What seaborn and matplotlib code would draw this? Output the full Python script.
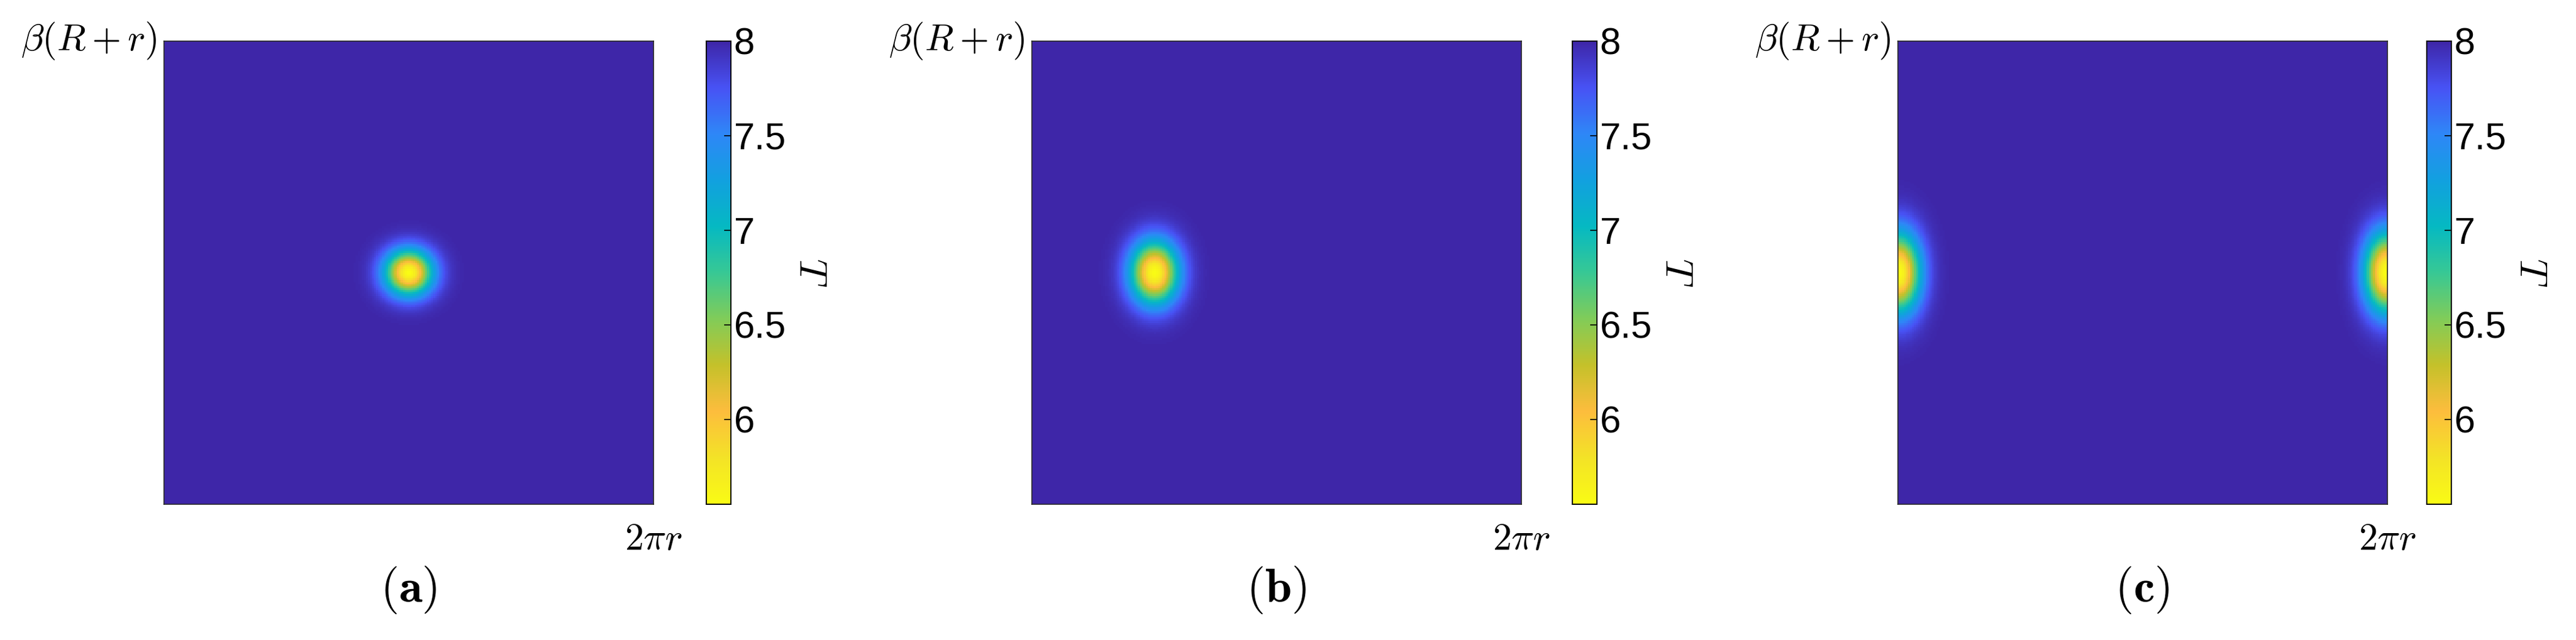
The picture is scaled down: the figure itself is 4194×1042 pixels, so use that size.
import numpy as np
import seaborn as sns
import matplotlib.pyplot as plt
from matplotlib.colors import LinearSegmentedColormap

plt.rcParams['mathtext.fontset'] = 'cm'
plt.rcParams['font.family'] = ['Liberation Sans', 'DejaVu Sans']

# hot-spot parameters for each panel (domain scaled to [0, 1] x [0, 1])
panels = ['a', 'b', 'c']
centers_x = [0.50, 0.25, 0.0]
centers_y = [0.50, 0.50, 0.50]
sigma_x = [0.034, 0.034, 0.031]
sigma_y = [0.034, 0.047, 0.060]
t_min = [5.55, 5.55, 5.55]
t_max = 8.0
cbar_ticks = [6, 6.5, 7, 7.5, 8]
cbar_labels = ['6', '6.5', '7', '7.5', '8']

parula = [(0.2422, 0.1504, 0.6603), (0.2810, 0.3228, 0.9579), (0.1786, 0.5289, 0.9682),
          (0.0689, 0.6279, 0.8754), (0.0215, 0.7257, 0.7610), (0.2172, 0.7850, 0.5808),
          (0.5044, 0.7993, 0.3480), (0.7700, 0.7567, 0.1647), (0.9906, 0.7410, 0.2394),
          (0.9540, 0.8880, 0.1525), (0.9769, 0.9839, 0.0805)]
cmap = LinearSegmentedColormap.from_list('parula_r', parula[::-1])

n = 240
xs = np.linspace(0, 1, n)
ys = np.linspace(0, 1, n)
X, Y = np.meshgrid(xs, ys)

fig = plt.figure(figsize=(41.94, 10.42), dpi=100)
ax_left = [0.0637, 0.4005, 0.7367]
cb_left = [0.2742, 0.6104, 0.9420]

for i, p in enumerate(panels):
    dx = X - centers_x[i]
    dx = (dx + 0.5) % 1.0 - 0.5  # periodic in x
    dy = Y - centers_y[i]
    T = t_max - (t_max - t_min[i]) * np.exp(-(dx**2 / (2 * sigma_x[i]**2) + dy**2 / (2 * sigma_y[i]**2)))
    ax = fig.add_axes([ax_left[i], 0.212, 0.190, 0.724])
    cax = fig.add_axes([cb_left[i], 0.212, 0.0095, 0.724])
    sns.heatmap(T, ax=ax, cbar_ax=cax, cmap=cmap, vmin=5.55, vmax=8,
                xticklabels=False, yticklabels=False, rasterized=True)
    for s in ax.spines.values():
        s.set_visible(True)
        s.set_linewidth(1.2)
        s.set_color('#262626')
    ax.set_xticks([])
    ax.set_yticks([])
    ax.text(-0.015, 1.0, r'$\beta(R+r)$', transform=ax.transAxes, ha='right', va='center', fontsize=44)
    ax.text(1.0, -0.04, r'$2\pi r$', transform=ax.transAxes, ha='center', va='top', fontsize=44)
    ax.text(0.5, -0.13, r'$\mathrm{(}\mathbf{' + p + r'}\mathrm{)}$', transform=ax.transAxes,
            ha='center', va='top', fontsize=56)
    cax.set_yticks(cbar_ticks)
    cax.set_yticklabels(cbar_labels)
    cax.tick_params(labelsize=44, length=8, width=1.2, direction='in')
    cax.set_ylabel(r'$T$', fontsize=46, rotation=270, labelpad=50)
    for s in cax.spines.values():
        s.set_visible(True)
        s.set_linewidth(1.2)

fig.savefig('out.png', dpi=100)
